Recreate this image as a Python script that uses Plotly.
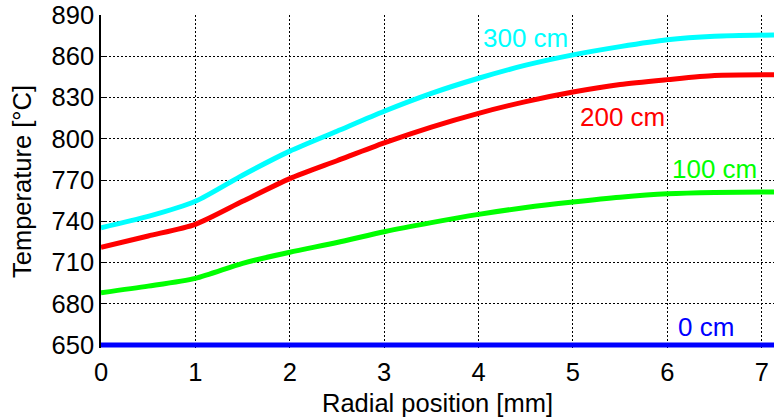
import plotly.graph_objects as go

# Radial positions [mm]
radial_mm = [0, 0.5, 1, 1.5, 2, 2.5, 3, 3.5, 4, 4.5, 5, 5.5, 6, 6.5, 7.13]

# Temperature profiles [°C] at several axial positions
temp_0cm = [650] * len(radial_mm)
temp_100cm = [688, 692.8, 698.5, 709.4, 717.5, 724.5, 732.4, 739, 745, 750, 754, 757.5, 760, 761, 761.3]
temp_200cm = [721, 729.3, 737.8, 754.5, 771, 784, 797, 808.5, 818.5, 827, 834, 839.5, 843, 846, 846.5]
temp_300cm = [735.3, 743.5, 754.5, 773.5, 791, 805.5, 820, 833, 844, 853.5, 861, 867, 872, 874.5, 875.5]

series_names = ["0 cm", "100 cm", "200 cm", "300 cm"]
series_colors = ["#0000ff", "#00ff00", "#ff0000", "#00ffff"]
series_values = [temp_0cm, temp_100cm, temp_200cm, temp_300cm]

# Curve label anchors (radial position, temperature)
label_x = [6.09, 6.03, 5.05, 4.03]
label_y = [663, 778, 815.5, 873.3]

y_ticks = [650, 680, 710, 740, 770, 800, 830, 860, 890]
x_ticks = [0, 1, 2, 3, 4, 5, 6, 7]

FONT = "Arial, 'Liberation Sans', sans-serif"

fig = go.Figure()
for name, color, vals in zip(series_names, series_colors, series_values):
    fig.add_trace(go.Scatter(
        x=radial_mm, y=vals, mode="lines", name=name,
        line=dict(color=color, width=5, shape="spline", smoothing=0.7),
        cliponaxis=False,
    ))

for name, color, lx, ly in zip(series_names, series_colors, label_x, label_y):
    fig.add_annotation(
        x=lx, y=ly, text=name, showarrow=False, xanchor="left", yanchor="middle",
        font=dict(family=FONT, size=26, color=color),
    )

axis_common = dict(
    showgrid=True, gridcolor="black", gridwidth=1, griddash="2px,2px",
    zeroline=False, linecolor="black", linewidth=1.5,
    ticks="inside", ticklen=5, tickcolor="black", mirror=False,
    tickfont=dict(family=FONT, size=25.5, color="black"),
    layer="below traces",
)

# The value axis starts a hair below 650 so the full width of the 650 °C line stays visible
fig.update_xaxes(
    range=[0, 7.13], tickvals=x_ticks, showline=False, ticklabelstandoff=6, **axis_common,
    title=dict(text="Radial position [mm]", font=dict(family=FONT, size=25.5, color="black"), standoff=9),
)
fig.update_yaxes(
    range=[647.82, 890], tickvals=y_ticks, showline=True, **axis_common,
    title=dict(text="Temperature [°C]", font=dict(family=FONT, size=25.5, color="black"), standoff=13),
)

fig.update_layout(
    width=774, height=418,
    margin=dict(l=101, r=0, t=15, b=70),
    paper_bgcolor="white", plot_bgcolor="white",
    showlegend=False,
)

fig.write_html("out.html")
